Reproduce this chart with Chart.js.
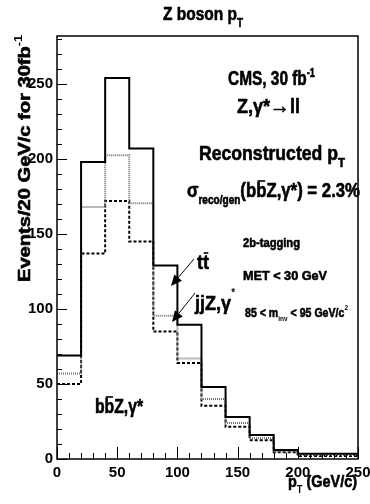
<!DOCTYPE html>
<html>
<head>
<meta charset="utf-8">
<script src="https://cdn.jsdelivr.net/npm/chart.js@4"></script>
<style>
  html, body { margin: 0; padding: 0; background: #fff; }
  #wrap { width: 370px; height: 504px; }
</style>
</head>
<body>
<div id="wrap"><canvas id="canvas_plot"></canvas></div>
<script>
// bin edges in GeV/c (last bin cut at the frame)
var bin_edges = [0, 20, 40, 60, 80, 100, 120, 140, 160, 180, 200, 220, 240, 250]

// events per bin
var total_vals = [69, 198, 254, 207, 129, 89.5, 48, 28, 16, 6, 3.5, 3.5, 3.5]      // solid
var mid_vals   = [57, 168, 202.5, 170.5, 95.5, 67, 40, 24, 14, 5, 2.7, 2.7, 2.7]  // dotted
var low_vals   = [50, 137, 172, 145, 85, 64, 35.5, 21.5, 12.5, 4.5, 2, 2, 2]      // dashed

var x_ticks = [0, 50, 100, 150, 200, 250]
var y_ticks = [0, 50, 100, 150, 200, 250]

const FONT = '"Liberation Sans", Arial, Helvetica, sans-serif'

function toSteps(vals) {
    var pts = []
    for (var i = 0; i < bin_edges.length; i++) {
        pts.push({x: bin_edges[i], y: vals[Math.min(i, vals.length - 1)]})
    }
    return pts
}

// text made of pieces [text, size, dy, bar], squeezed/stretched to a given width
function richText(ctx, x, y, parts, width, align) {
    var w = 0
    parts.forEach(function (p) {
        ctx.font = 'bold ' + p[1] + 'px ' + FONT
        w += ctx.measureText(p[0]).width
    })
    var sx = width ? width / w : 1
    var tw = w * sx
    var start = align === 'right' ? x - tw : (align === 'center' ? x - tw / 2 : x)
    ctx.save()
    ctx.translate(start, y)
    ctx.scale(sx, 1)
    ctx.textAlign = 'left'
    ctx.textBaseline = 'alphabetic'
    ctx.strokeStyle = '#000'
    ctx.lineWidth = 0.6
    ctx.lineJoin = 'round'
    var cx = 0
    parts.forEach(function (p) {
        ctx.font = 'bold ' + p[1] + 'px ' + FONT
        var pw = ctx.measureText(p[0]).width
        ctx.fillText(p[0], cx, p[2] || 0)
        // a little extra weight, the squeeze thins the strokes
        if (p[1] >= 12) ctx.strokeText(p[0], cx, p[2] || 0)
        if (p[3]) {
            // overline for the anti-particle
            ctx.fillRect(cx + pw * 0.12, (p[2] || 0) - p[1] * 0.84, pw * 0.76, 1.6)
        }
        cx += pw
    })
    ctx.restore()
}

function arrow(ctx, x1, y1, x2, y2) {
    var ang = Math.atan2(y2 - y1, x2 - x1)
    var len = 11, half = 5
    var bx = x2 - Math.cos(ang) * len, by = y2 - Math.sin(ang) * len
    ctx.beginPath()
    ctx.moveTo(x1, y1)
    ctx.lineTo(bx, by)
    ctx.lineWidth = 1
    ctx.strokeStyle = '#000'
    ctx.stroke()
    ctx.beginPath()
    ctx.moveTo(x2, y2)
    ctx.lineTo(bx - Math.sin(ang) * half, by + Math.cos(ang) * half)
    ctx.lineTo(bx + Math.sin(ang) * half, by - Math.cos(ang) * half)
    ctx.closePath()
    ctx.fillStyle = '#000'
    ctx.fill()
}

// frame, inward ticks and the ROOT-style labels
var rootStyle = {
    id: 'rootStyle',
    afterDatasetsDraw: function (chart) {
        var ctx = chart.ctx
        var a = chart.chartArea
        var xs = chart.scales.x
        var ys = chart.scales.y
        ctx.save()
        ctx.strokeStyle = '#000'
        ctx.lineWidth = 1.5
        ctx.strokeRect(a.left, a.top, a.right - a.left, a.bottom - a.top)

        ctx.lineWidth = 1
        ctx.beginPath()
        for (var v = 0; v <= 280; v += 10) {
            var py = Math.round(ys.getPixelForValue(v)) + 0.5
            var l = (v % 50 === 0) ? 10 : 5
            ctx.moveTo(a.left, py)
            ctx.lineTo(a.left + l, py)
        }
        for (var u = 0; u <= 250; u += 10) {
            var px = Math.round(xs.getPixelForValue(u)) + 0.5
            var lx = (u % 50 === 0) ? 12 : 6
            ctx.moveTo(px, a.bottom)
            ctx.lineTo(px, a.bottom - lx)
        }
        ctx.stroke()

        ctx.fillStyle = '#000'
        // title
        richText(ctx, 163, 20, [['Z boson p', 19], ['T', 12, 7]], 80)
        // axis titles
        richText(ctx, 357, 487, [['p', 17], ['T', 11, 6], [' (GeV/c)', 17]], 69, 'right')
        ctx.save()
        ctx.translate(30, 35)
        ctx.rotate(-Math.PI / 2)
        richText(ctx, 0, 0, [['Events/20 GeV/c for 30fb', 16], ['-1', 10, -8]], 247, 'right')
        ctx.restore()

        // text block on the right
        richText(ctx, 228, 85, [['CMS, 30 fb', 20], ['-1', 12, -8]], 87)
        richText(ctx, 237, 113, [['Z,\u03b3*', 20], ['\u2192', 22], ['ll', 20]], 63)
        richText(ctx, 199, 160, [['Reconstructed p', 20], ['T', 13, 7]], 146)
        richText(ctx, 187, 197, [['\u03c3', 20], ['reco/gen', 12, 7], ['(b', 20], ['b', 20, 0, true], ['Z,\u03b3*) = 2.3%', 20]], 173)
        richText(ctx, 243, 247, [['2b-tagging', 13]], 57)
        richText(ctx, 243, 280, [['MET < 30 GeV', 13]], 84)
        richText(ctx, 245, 317, [['85 < m', 13], ['inv', 8, 4], [' < 95 GeV/c', 13], ['2', 8, -7]], 103)

        // process labels with arrows
        richText(ctx, 197, 269, [['t', 20], ['t', 20, 0, true]], 12)
        arrow(ctx, 194, 259, 171, 286)
        richText(ctx, 195, 310, [['jjZ,\u03b3', 20], ['*', 11, -14]], 40)
        arrow(ctx, 195, 293, 172, 322)
        richText(ctx, 95, 413, [['b', 20], ['b', 20, 0, true], ['Z,\u03b3*', 20]], 48)
        ctx.restore()
    }
}

var data = {
    datasets: [
        {
            label: 'total',
            data: toSteps(total_vals),
            stepped: 'before',
            borderColor: '#000',
            borderWidth: 2,
            pointRadius: 0,
            fill: false
        },
        {
            label: 'dotted',
            data: toSteps(mid_vals),
            stepped: 'before',
            borderColor: '#777',
            borderWidth: 2,
            borderDash: [1, 1],
            pointRadius: 0,
            fill: false
        },
        {
            label: 'dashed',
            data: toSteps(low_vals),
            stepped: 'before',
            borderColor: '#000',
            borderWidth: 2,
            borderDash: [3, 2],
            pointRadius: 0,
            fill: false
        }
    ]
}

var config = {
    type: 'line',
    data: data,
    options: {
        responsive: true,
        maintainAspectRatio: false,
        animation: false,
        layout: { padding: { left: 0, right: 12, top: 36, bottom: 19 } },
        plugins: { legend: { display: false }, tooltip: { enabled: false } },
        scales: {
            x: {
                type: 'linear',
                min: 0,
                max: 250,
                grid: { display: false, drawTicks: false },
                border: { display: false },
                afterFit: function (s) { s.height = 26; s.paddingRight = 0; s.paddingLeft = 0 },
                afterBuildTicks: function (s) { s.ticks = x_ticks.map(function (v) { return {value: v} }) },
                ticks: {
                    autoSkip: false,
                    maxRotation: 0,
                    padding: 5,
                    color: '#000',
                    font: { family: FONT, size: 15, weight: 'bold' }
                }
            },
            y: {
                type: 'linear',
                min: 0,
                max: 282,
                grid: { display: false, drawTicks: false },
                border: { display: false },
                afterFit: function (s) { s.width = 57; s.paddingTop = 0; s.paddingBottom = 0 },
                afterBuildTicks: function (s) { s.ticks = y_ticks.map(function (v) { return {value: v} }) },
                ticks: {
                    autoSkip: false,
                    padding: 4,
                    color: '#000',
                    font: { family: FONT, size: 15, weight: 'bold' }
                }
            }
        }
    },
    plugins: [rootStyle]
}

var barchar = new Chart(document.getElementById('canvas_plot'), config)
</script>
</body>
</html>
